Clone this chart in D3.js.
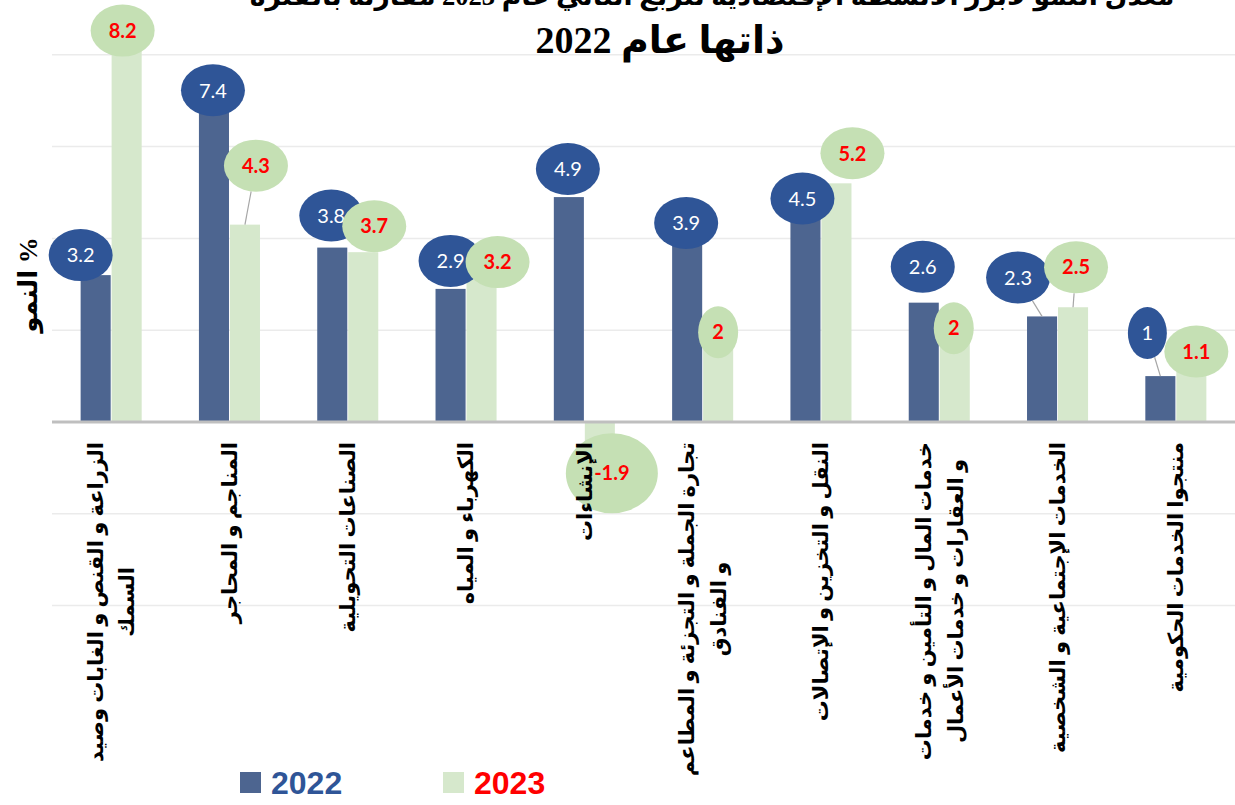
<!DOCTYPE html>
<html>
<head>
<meta charset="utf-8">
<script src="https://cdn.jsdelivr.net/npm/d3@7"></script>
<style>
  body { margin: 0; background: #fff; }
  svg { display: block; }
</style>
</head>
<body>
<div id="chart"></div>
<script>
// data
let categories = [
    ["الزراعة و القنص و الغابات وصيد", "السمك"],
    ["المناجم و المحاجر"],
    ["الصناعات التحويلية"],
    ["الكهرباء و المياه"],
    ["الإنشاءات"],
    ["تجارة الجملة و التجزئة و المطاعم", "و الفنادق"],
    ["النقل و التخزين و الإتصالات"],
    ["خدمات المال و التأمين و خدمات", "و العقارات و خدمات الأعمال"],
    ["الخدمات الإجتماعية و الشخصية"],
    ["منتجوا الخدمات الحكومية"]
];
let series = ["2022", "2023"];
let values2022 = [3.2, 7.4, 3.8, 2.9, 4.9, 3.9, 4.5, 2.6, 2.3, 1];
let values2023 = [8.2, 4.3, 3.7, 3.2, -1.9, 2, 5.2, 2, 2.5, 1.1];
let yTicks = [-4, -2, 0, 2, 4, 6, 8];

// label placement: [dx, dy, rx, ry] from the end of each bar
let labelPos2022 = [[-15,-20,32,26],[-1,8,32,26],[-1,-32,32,26],[0,-28,32,26],[-1,-28,32,26],
                    [-1,-20,32,26],[-3,-17,32,26],[-1,-36,32,26],[-24,-39,32,26],[-13,-43,19.5,26]];
let labelPos2023 = [[-4,-15,32,26],[11,-59,32,26],[11,-26,32,26],[16,-13,32,26],[12,-36,46,40],
                    [0,2,20,26],[16,-30,32,26],[-1,-2,20,26],[3,-40,32,26],[5,-20,32,26]];

let width = 1235, height = 805;
let barColors = ["#4D6590", "#D6E8CC"];
let bubbleColors = ["#2F5597", "#C5E0B4"];
let textColors = ["#FFFFFF", "#FF0000"];

let svg = d3.select("#chart").append("svg")
    .attr("width", width)
    .attr("height", height);

let x0 = d3.scaleBand()
    .domain(d3.range(categories.length))
    .range([52, 1235])
    .paddingInner(0.484)
    .paddingOuter(0.242);

let x1 = d3.scaleBand()
    .domain(series)
    .range([0, x0.bandwidth()])
    .paddingInner(0.03);

let y = d3.scaleLinear()
    .domain([-4, 8])
    .range([605.6, 54.8]);

// gridlines
svg.append("g")
    .selectAll("line")
    .data(yTicks.filter(d => d !== 0))
    .join("line")
    .attr("x1", 52).attr("x2", 1235)
    .attr("y1", d => y(d)).attr("y2", d => y(d))
    .attr("stroke", "#EBEBEB")
    .attr("stroke-width", 1.5);

// bars
let rows = categories.map((c, i) => ({ i: i, vals: [values2022[i], values2023[i]] }));

let groups = svg.append("g")
    .selectAll("g")
    .data(rows)
    .join("g")
    .attr("transform", d => "translate(" + x0(d.i) + ",0)");

groups.selectAll("rect")
    .data(d => d.vals.map((v, k) => ({ key: series[k], k: k, v: v })))
    .join("rect")
    .attr("x", d => x1(d.key))
    .attr("width", x1.bandwidth())
    .attr("y", d => Math.min(y(d.v), y(0)))
    .attr("height", d => Math.abs(y(d.v) - y(0)))
    .attr("fill", d => barColors[d.k]);

// zero axis
svg.append("line")
    .attr("x1", 52).attr("x2", 1235)
    .attr("y1", y(0)).attr("y2", y(0))
    .attr("stroke", "#BFBFBF")
    .attr("stroke-width", 3);

// data labels (2022 first, 2023 on top)
function drawLabels(vals, pos, k) {
    let g = svg.append("g");
    vals.forEach((v, i) => {
        let bx = x0(i) + x1(series[k]) + x1.bandwidth() / 2;
        let by = y(v);
        let p = pos[i];
        let cx = bx + p[0], cy = by + p[1], rx = p[2], ry = p[3];
        let nx = (bx - cx) / rx, ny = (by - cy) / ry;
        let dist = Math.sqrt(nx * nx + ny * ny);
        if (dist > 1.45) {
            g.append("line")
                .attr("x1", cx + nx / dist * rx).attr("y1", cy + ny / dist * ry)
                .attr("x2", bx).attr("y2", by)
                .attr("stroke", "#A6A6A6")
                .attr("stroke-width", 1.2);
        }
        g.append("ellipse")
            .attr("cx", cx).attr("cy", cy)
            .attr("rx", rx).attr("ry", ry)
            .attr("fill", bubbleColors[k]);
        g.append("text")
            .attr("x", cx).attr("y", cy)
            .attr("dy", "0.36em")
            .attr("text-anchor", "middle")
            .style("font-family", "Lato, 'Open Sans', sans-serif")
            .style("font-size", "20px")
            .style("font-weight", k === 1 ? "bold" : "normal")
            .attr("fill", textColors[k])
            .text(v);
    });
}
drawLabels(values2022, labelPos2022, 0);
drawLabels(values2023, labelPos2023, 1);

// category labels, rotated, reading top to bottom
let catFont = "'Liberation Serif', 'DejaVu Sans', serif";
categories.forEach((lines, i) => {
    let g = svg.append("g")
        .attr("transform", "translate(" + (x0(i) + x0.bandwidth() / 2) + ",442) rotate(-90)");
    let texts = lines.map((t, j) => g.append("text")
        .attr("y", (j - (lines.length - 1) / 2) * 32)
        .attr("dy", "0.35em")
        .attr("text-anchor", "middle")
        .style("font-family", catFont)
        .style("font-size", "21px")
        .style("font-weight", "bold")
        .attr("fill", "#000")
        .text(t));
    let maxW = d3.max(texts, t => t.node().getComputedTextLength());
    texts.forEach(t => t.attr("x", -maxW / 2));
});

// y axis title
svg.append("text")
    .attr("transform", "translate(28,285) rotate(-90)")
    .attr("dy", "0.35em")
    .attr("text-anchor", "middle")
    .style("font-family", catFont)
    .style("font-size", "26px")
    .style("font-weight", "bold")
    .text("النمو %");

// title (first line runs off the top edge, as in the original)
let title = svg.append("g")
    .style("font-family", catFont)
    .style("font-weight", "bold")
    .attr("text-anchor", "middle");
let line1 = title.append("text")
    .attr("x", 712).attr("y", 5)
    .style("font-size", "38px")
    .text("معدل النمو لأبرز الأنشطة الإقتصادية للربع الثاني عام 2023 مقارنة بالفترة");
let w1 = line1.node().getComputedTextLength();
line1.style("font-size", Math.min(38, 38 * 925 / w1) + "px");
title.append("text")
    .attr("x", 660).attr("y", 53)
    .style("font-size", "38px")
    .text("ذاتها عام 2022");

// legend
let legend = svg.append("g");
series.forEach((s, k) => {
    let lx = [240, 443][k];
    legend.append("rect")
        .attr("x", lx).attr("y", 772)
        .attr("width", 21).attr("height", 21)
        .attr("fill", barColors[k]);
    legend.append("text")
        .attr("x", lx + 31).attr("y", 794)
        .style("font-family", "'Liberation Sans', Arial, sans-serif")
        .style("font-size", "32px")
        .style("font-weight", "bold")
        .attr("fill", k === 0 ? "#2F5597" : "#FF0000")
        .text(s);
});
</script>
</body>
</html>
